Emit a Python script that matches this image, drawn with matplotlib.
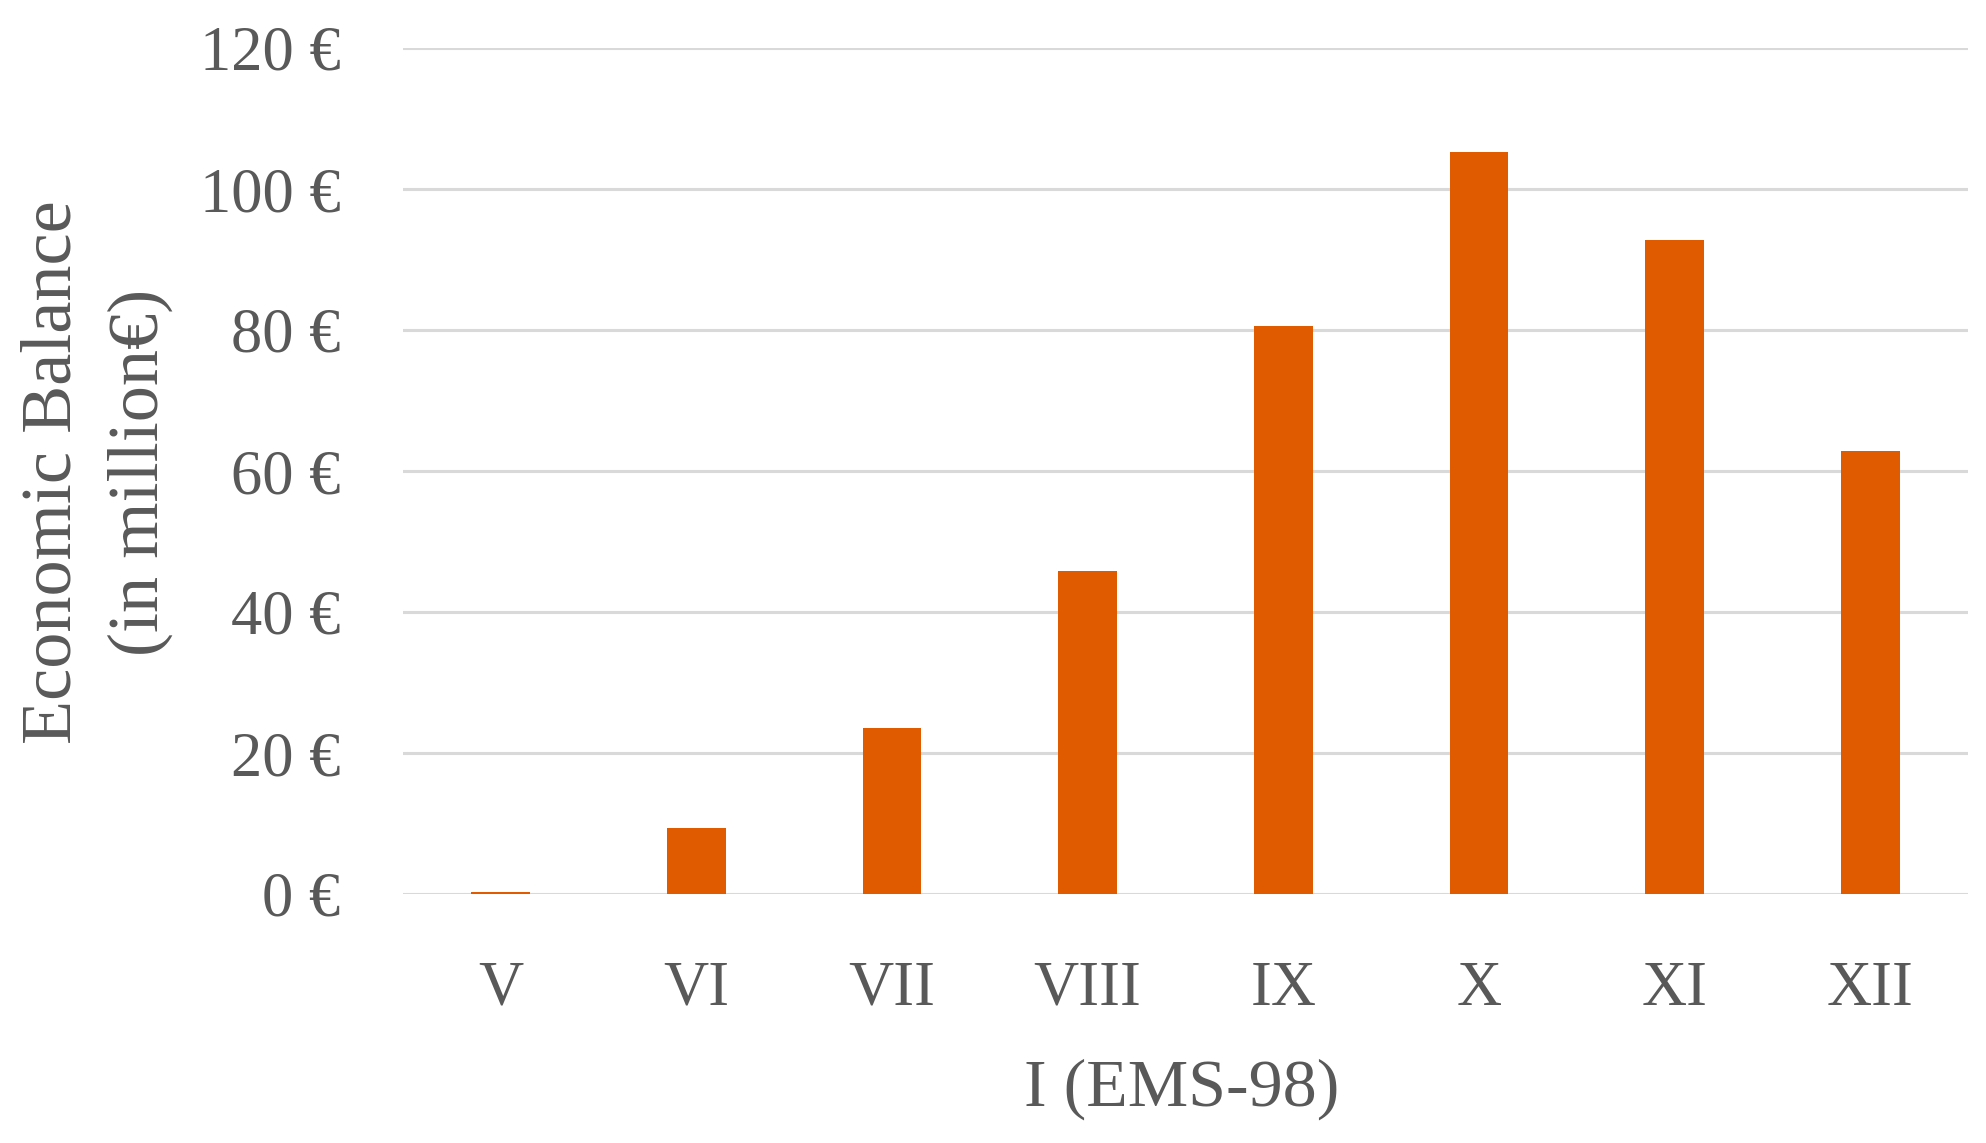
import matplotlib.pyplot as plt
from matplotlib.ticker import FuncFormatter

categories = ["V", "VI", "VII", "VIII", "IX", "X", "XI", "XII"]
balance = [0.3, 9.4, 23.5, 45.8, 80.5, 105.3, 92.7, 62.9]
yticks = [0, 20, 40, 60, 80, 100, 120]

plt.rcParams['font.family'] = ['Liberation Serif', 'DejaVu Serif']
gray = "#595959"

fig = plt.figure(figsize=(19.86, 11.43), dpi=100)
ax = fig.add_axes([403/1986, 1 - 894/1143, (1968-403)/1986, (894-48)/1143])

x = range(len(categories))
ax.bar(x, balance, width=0.30, color="#E05A00", zorder=3)

ax.set_xlim(-0.5, len(categories) - 0.5)
ax.set_ylim(0, 120)
ax.set_yticks(yticks)
ax.yaxis.set_major_formatter(FuncFormatter(lambda v, p: f"{v:.0f} €"))
ax.set_xticks(list(x))
ax.set_xticklabels(categories)

ax.grid(axis="y", color="#d9d9d9", linewidth=2.2, zorder=0)
for s in ax.spines.values():
    s.set_visible(False)
ax.tick_params(axis="both", length=0, labelsize=45, labelcolor=gray)
ax.tick_params(axis="y", pad=45)
ax.tick_params(axis="x", pad=48)

fig.text(1182/1986, 1 - 1089/1143, "I (EMS-98)", ha="center", va="center",
         fontsize=49, color=gray)
fig.text(97/1986, 1 - 472/1143, "Economic Balance\n(in million€)", ha="center",
         va="center", rotation=90, fontsize=52, color=gray, linespacing=1.45)

fig.savefig("out.png", dpi=100)
